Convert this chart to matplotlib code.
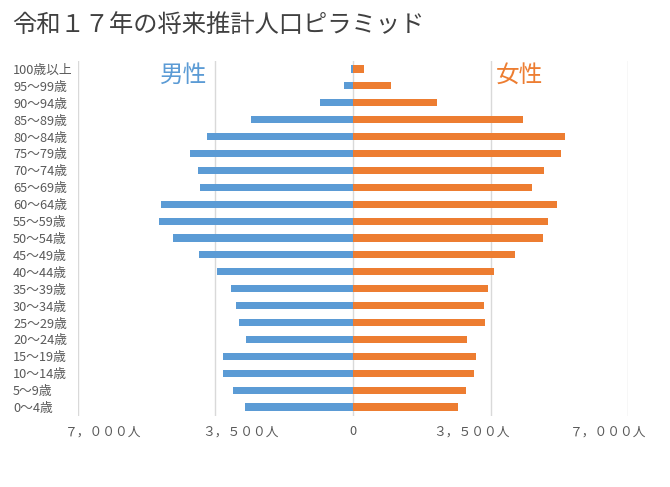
import matplotlib
matplotlib.use("Agg")
import matplotlib.pyplot as plt
from matplotlib.transforms import ScaledTranslation

plt.rcParams['font.family'] = ['Noto Sans CJK JP', 'DejaVu Sans']

age_groups = ['0～4歳', '5～9歳', '10～14歳', '15～19歳', '20～24歳', '25～29歳',
              '30～34歳', '35～39歳', '40～44歳', '45～49歳', '50～54歳', '55～59歳',
              '60～64歳', '65～69歳', '70～74歳', '75～79歳', '80～84歳', '85～89歳',
              '90～94歳', '95～99歳', '100歳以上']
male = [2760, 3060, 3320, 3320, 2730, 2910, 2985, 3110, 3470, 3930, 4590, 4945,
        4890, 3900, 3950, 4160, 3720, 2600, 850, 240, 60]
female = [2665, 2870, 3070, 3125, 2895, 3350, 3325, 3430, 3580, 4115, 4830, 4955,
          5185, 4550, 4855, 5285, 5390, 4320, 2150, 960, 270]
xticks = [-7000, -3500, 0, 3500, 7000]
xticklabels = ['７，０００人', '３，５００人', '0', '３，５００人', '７，０００人']
title = '令和１７年の将来推計人口ピラミッド'

W, H = 670, 487
fig = plt.figure(figsize=(W / 100, H / 100), dpi=100)
ax = fig.add_axes([78 / W, 1 - 415.5 / H, 550 / W, 355 / H])

y = list(range(len(age_groups)))
ax.barh(y, [-v for v in male], height=0.42, color='#5B9BD5', zorder=3)
ax.barh(y, female, height=0.42, color='#ED7D31', zorder=3)

ax.set_xlim(-7000, 7000)
ax.set_ylim(-0.5, len(age_groups) - 0.5)
ax.set_xticks(xticks)
ax.set_xticklabels(xticklabels)
ax.set_yticks(y)
ax.set_yticklabels(age_groups)
for s in ax.spines.values():
    s.set_visible(False)
ax.grid(axis='x', color='#D9D9D9', linewidth=1, zorder=0)
ax.set_axisbelow(True)
ax.tick_params(axis='both', length=0, colors='#595959', labelsize=9.2)
ax.tick_params(axis='x', pad=7)
ax.tick_params(axis='y', pad=65 * 72 / 100)
for lab in ax.get_yticklabels():
    lab.set_horizontalalignment('left')

offsets = [25.5, 25, 0, -19, -19.5]
for lab, off in zip(ax.get_xticklabels(), offsets):
    lab.set_transform(lab.get_transform() + ScaledTranslation(off / 100, 0, fig.dpi_scale_trans))

ax.text(0.1927, 0.959, '男性', transform=ax.transAxes, ha='center', va='center',
        fontsize=17, color='#5B9BD5')
ax.text(0.803, 0.959, '女性', transform=ax.transAxes, ha='center', va='center',
        fontsize=17, color='#ED7D31')

fig.text(12 / W, 1 - 25 / H, title, ha='left', va='center', fontsize=17.5, color='#404040')

fig.savefig('out.png', dpi=100)
